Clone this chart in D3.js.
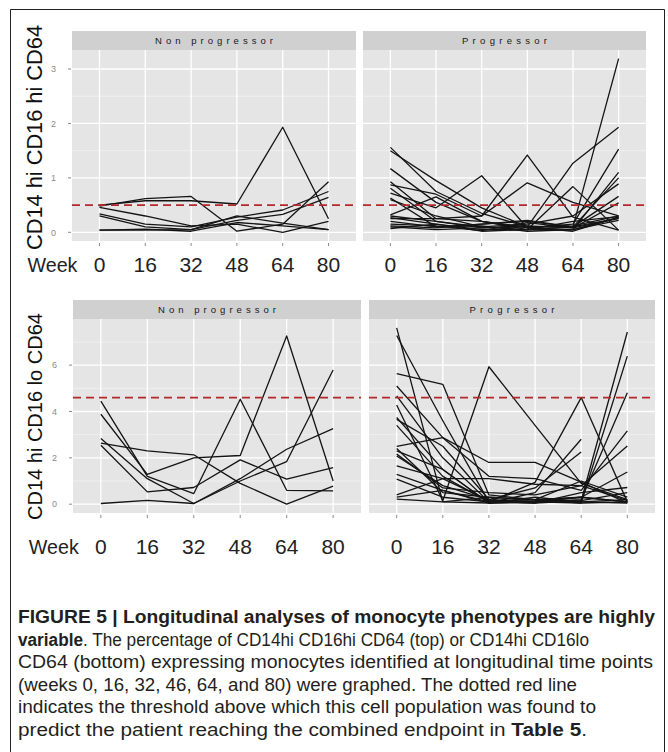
<!DOCTYPE html>
<html>
<head>
<meta charset="utf-8">
<script src="https://cdn.jsdelivr.net/npm/d3@7"></script>
<style>
  html, body { margin: 0; padding: 0; background: #fff; }
  svg { display: block; }
</style>
</head>
<body>
<svg id="chart" width="668" height="752"></svg>
<script>
// ---------------- DATA ----------------
const weeks = ["0", "16", "32", "48", "64", "80"];
const groups = ["Non progressor", "Progressor"];

// CD14hi CD16hi CD64 (top row), one array per patient, values at weeks 0..80
const topNonProgressor = [
  [0.48, 0.62, 0.66, 0.02, 0.15, 0.93],
  [0.50, 0.58, 0.58, 0.52, 1.93, 0.25],
  [0.34, 0.15, 0.10, 0.28, 0.41, 0.75],
  [0.30, 0.10, 0.05, 0.22, 0.33, 0.64],
  [0.46, 0.30, 0.12, 0.15, 0.00, 0.20],
  [0.04, 0.04, 0.05, 0.30, 0.17, 0.05],
  [0.04, 0.06, 0.02, 0.18, 0.12, 0.05]
];
const topProgressor = [
  [1.56, 0.75, 0.35, 0.10, 0.10, 3.19],
  [1.50, 0.95, 0.45, 0.10, 1.27, 1.93],
  [1.17, 0.55, 0.20, 0.08, 0.15, 1.53],
  [0.93, 0.25, 0.30, 1.42, 0.28, 0.04],
  [0.87, 0.70, 0.30, 0.91, 0.55, 0.30],
  [0.81, 0.20, 0.10, 0.05, 0.84, 0.04],
  [0.72, 0.45, 1.04, 0.08, 0.05, 1.10],
  [0.63, 0.10, 0.15, 0.20, 0.10, 1.00],
  [0.60, 0.30, 0.10, 0.15, 0.30, 0.89],
  [0.32, 0.65, 0.20, 0.05, 0.10, 0.66],
  [0.30, 0.20, 0.08, 0.12, 0.08, 0.54],
  [0.27, 0.15, 0.05, 0.05, 0.20, 0.29],
  [0.25, 0.25, 0.20, 0.10, 0.02, 0.28],
  [0.20, 0.10, 0.12, 0.02, 0.05, 0.27],
  [0.15, 0.12, 0.03, 0.18, 0.08, 0.25],
  [0.12, 0.08, 0.15, 0.22, 0.10, 0.26],
  [0.10, 0.05, 0.08, 0.10, 0.12, 0.30],
  [0.07, 0.15, 0.02, 0.05, 0.05, 0.22]
];

// CD14hi CD16lo CD64 (bottom row)
const bottomNonProgressor = [
  [4.45, 1.20, 0.46, 4.53, 0.60, 0.57],
  [3.88, 1.29, 2.00, 2.10, 7.26, 1.00],
  [2.63, 2.30, 2.13, 0.90, 0.00, 0.78],
  [2.83, 1.10, 0.03, 1.10, 2.37, 3.26],
  [2.54, 0.53, 0.72, 1.91, 1.08, 1.58],
  [0.03, 0.16, 0.03, 1.00, 1.84, 5.79]
];
const bottomProgressor = [
  [7.61, 0.10, 0.30, 0.20, 0.10, 0.05],
  [7.28, 3.60, 0.10, 0.15, 0.30, 0.10],
  [5.63, 5.17, 0.40, 0.20, 0.30, 0.10],
  [5.10, 2.87, 1.80, 1.80, 0.95, 0.05],
  [4.28, 0.15, 5.93, 3.40, 0.90, 0.20],
  [4.67, 2.00, 0.10, 0.05, 0.15, 7.43],
  [3.66, 2.50, 0.20, 0.10, 0.05, 6.39],
  [3.74, 1.50, 0.05, 0.10, 0.20, 4.81],
  [3.40, 1.20, 0.10, 0.94, 4.60, 0.10],
  [2.49, 2.87, 1.20, 1.10, 0.60, 3.16],
  [2.30, 1.50, 0.05, 0.50, 2.80, null],
  [2.08, 0.80, 0.20, 0.70, 2.25, null],
  [1.65, 1.10, 1.10, 0.86, 0.80, 2.51],
  [1.29, 0.60, 0.05, 0.10, 0.30, 1.39],
  [1.08, 0.30, 0.10, 0.05, 0.50, 0.72],
  [0.40, 1.10, 0.15, 0.20, 1.00, 0.30],
  [0.30, 0.60, 0.10, 0.10, 0.15, 0.50],
  [0.22, 0.10, 0.05, 0.30, 0.10, 0.20],
  [2.40, 0.50, 0.30, 0.20, 0.05, 0.10],
  [2.16, 0.70, 0.50, 0.40, 0.80, 0.15]
];

const topThreshold = 0.5;
const bottomThreshold = 4.6;
const topYTicks = [0, 1, 2, 3];
const bottomYTicks = [0, 2, 4, 6];
const topTitle = "CD14 hi CD16 hi CD64";
const bottomTitle = "CD14 hi CD16 lo CD64";
const weekWord = "Week";

// each caption line: a text element made of bold / regular pieces
const captionLines = [
  {x: 18, w: 637, parts: [{t: "FIGURE 5 | Longitudinal analyses of monocyte phenotypes are highly", b: true}]},
  {x: 18, w: 571, parts: [{t: "variable", b: true}, {t: ". The percentage of CD14hi CD16hi CD64 (top) or CD14hi CD16lo", b: false}]},
  {x: 18, w: 635, parts: [{t: "CD64 (bottom) expressing monocytes identified at longitudinal time points", b: false}]},
  {x: 18, w: 559, parts: [{t: "(weeks 0, 16, 32, 46, 64, and 80) were graphed. The dotted red line", b: false}]},
  {x: 18, w: 578, parts: [{t: "indicates the threshold above which this cell population was found to", b: false}]},
  {x: 18, w: 569, parts: [{t: "predict the patient reaching the combined endpoint in ", b: false}, {t: "Table 5", b: true}, {t: ".", b: false}]}
];

// ---------------- DRAW ----------------
const svg = d3.select("#chart");

// outer frame (open at the bottom)
svg.append("path")
  .attr("d", "M10.5,752 V9.5 H664.5 V752")
  .attr("fill", "none").attr("stroke", "#222").attr("stroke-width", 1);

const rows = [
  {
    data: [topNonProgressor, topProgressor], threshold: topThreshold, ticks: topYTicks,
    title: topTitle, titleLen: 225, titleSize: 22, titleY: 137.5,
    stripTop: 31, panelTop: 50, panelBottom: 241,
    panelsX: [[72, 356], [363, 646]], labelBaseline: 272
  },
  {
    data: [bottomNonProgressor, bottomProgressor], threshold: bottomThreshold, ticks: bottomYTicks,
    title: bottomTitle, titleLen: 207, titleSize: 20, titleY: 416.5,
    stripTop: 300, panelTop: 319, panelBottom: 513,
    panelsX: [[73, 361], [369, 655]], labelBaseline: 554
  }
];

rows.forEach(row => {
  const all = row.data.flat(2).filter(v => v != null);
  const lo = Math.min(0, d3.min(all)), hi = d3.max(all);
  const pad = (hi - lo) * 0.05;
  const y = d3.scaleLinear().domain([lo - pad, hi + pad]).range([row.panelBottom, row.panelTop]);
  const minorTicks = row.ticks.slice(0, -1).map((t, i) => (t + row.ticks[i + 1]) / 2)
    .concat([row.ticks[row.ticks.length - 1] + (row.ticks[1] - row.ticks[0]) / 2])
    .filter(v => v <= hi + pad);

  row.panelsX.forEach(([x0, x1], gi) => {
    const x = d3.scalePoint().domain(weeks).range([x0, x1]).padding(0.6);
    const g = svg.append("g");

    // strip
    g.append("rect").attr("x", x0).attr("y", row.stripTop)
      .attr("width", x1 - x0).attr("height", row.panelTop - row.stripTop)
      .attr("fill", "#d0d0d0");
    const stripLen = gi === 0 ? 118 : 85;
    g.append("text")
      .attr("x", (x0 + x1) / 2).attr("y", (row.stripTop + row.panelTop) / 2 + 3.5)
      .attr("text-anchor", "middle")
      .attr("font-family", "Liberation Sans, Arial, sans-serif")
      .attr("font-size", 9.5).attr("fill", "#1a1a1a")
      .attr("textLength", stripLen).attr("lengthAdjust", "spacing")
      .text(groups[gi]);

    // panel background
    g.append("rect").attr("x", x0).attr("y", row.panelTop)
      .attr("width", x1 - x0).attr("height", row.panelBottom - row.panelTop)
      .attr("fill", "#e5e5e5");

    // minor horizontal grid
    g.selectAll(".minor").data(minorTicks).enter().append("line")
      .attr("x1", x0).attr("x2", x1)
      .attr("y1", d => y(d)).attr("y2", d => y(d))
      .attr("stroke", "#f2f2f2").attr("stroke-width", 0.8);
    // major horizontal grid
    g.selectAll(".major").data(row.ticks).enter().append("line")
      .attr("x1", x0).attr("x2", x1)
      .attr("y1", d => y(d)).attr("y2", d => y(d))
      .attr("stroke", "#ffffff").attr("stroke-width", 1.3);
    // vertical grid
    g.selectAll(".vgrid").data(weeks).enter().append("line")
      .attr("x1", d => x(d)).attr("x2", d => x(d))
      .attr("y1", row.panelTop).attr("y2", row.panelBottom)
      .attr("stroke", "#ffffff").attr("stroke-width", 1.3);

    // x ticks
    g.selectAll(".xt").data(weeks).enter().append("line")
      .attr("x1", d => x(d)).attr("x2", d => x(d))
      .attr("y1", row.panelBottom + 2).attr("y2", row.panelBottom + 5)
      .attr("stroke", "#8a8a8a").attr("stroke-width", 1);

    // x labels (large)
    g.selectAll(".xl").data(weeks).enter().append("text")
      .attr("x", d => x(d)).attr("y", row.labelBaseline)
      .attr("text-anchor", "middle")
      .attr("font-family", "Liberation Sans, Arial, sans-serif")
      .attr("font-size", 21).attr("fill", "#222")
      .text(d => d);

    if (gi === 0) {
      g.append("text")
        .attr("x", x(weeks[0]) - 22).attr("y", row.labelBaseline)
        .attr("text-anchor", "end")
        .attr("font-family", "Liberation Sans, Arial, sans-serif")
        .attr("font-size", 21).attr("fill", "#222")
        .attr("textLength", 50).attr("lengthAdjust", "spacingAndGlyphs")
        .text(weekWord);

      // y ticks and labels
      g.selectAll(".yt").data(row.ticks).enter().append("line")
        .attr("x1", x0 - 4).attr("x2", x0 - 1)
        .attr("y1", d => y(d)).attr("y2", d => y(d))
        .attr("stroke", "#8a8a8a").attr("stroke-width", 1);
      g.selectAll(".yl").data(row.ticks).enter().append("text")
        .attr("x", x0 - 16).attr("y", d => y(d) + 3.2)
        .attr("text-anchor", "end")
        .attr("font-family", "Liberation Sans, Arial, sans-serif")
        .attr("font-size", 9).attr("fill", "#8a8a8a")
        .text(d => d);

      // y title
      g.append("text")
        .attr("transform", `translate(42,${row.titleY}) rotate(-90)`)
        .attr("text-anchor", "middle")
        .attr("font-family", "Liberation Sans, Arial, sans-serif")
        .attr("font-size", row.titleSize).attr("fill", "#111")
        .attr("textLength", row.titleLen).attr("lengthAdjust", "spacingAndGlyphs")
        .text(row.title);
    }

    // patient lines
    const line = d3.line()
      .defined(d => d.v != null)
      .x(d => x(d.w)).y(d => y(d.v));
    g.selectAll(".series").data(row.data[gi]).enter().append("path")
      .attr("d", s => line(s.map((v, i) => ({w: weeks[i], v}))))
      .attr("fill", "none").attr("stroke", "#141414")
      .attr("stroke-width", 1.3).attr("stroke-linejoin", "round");

    // threshold
    g.append("line")
      .attr("x1", x0).attr("x2", x1)
      .attr("y1", y(row.threshold)).attr("y2", y(row.threshold))
      .attr("stroke", "#b3292b").attr("stroke-width", 1.8)
      .attr("stroke-dasharray", "8,5");
  });
});

// caption
const capG = svg.append("g");
captionLines.forEach((ln, li) => {
  const yb = 623 + li * 22.6;
  const txt = capG.append("text")
    .attr("x", ln.x).attr("y", yb)
    .attr("font-family", "Liberation Sans, Arial, sans-serif")
    .attr("font-size", 17.5)
    .attr("fill", "#231f20")
    .attr("textLength", ln.w).attr("lengthAdjust", "spacingAndGlyphs")
    .attr("xml:space", "preserve");
  ln.parts.forEach(p => {
    txt.append("tspan")
      .attr("font-weight", p.b ? "bold" : "normal")
      .text(p.t);
  });
});
</script>
</body>
</html>
